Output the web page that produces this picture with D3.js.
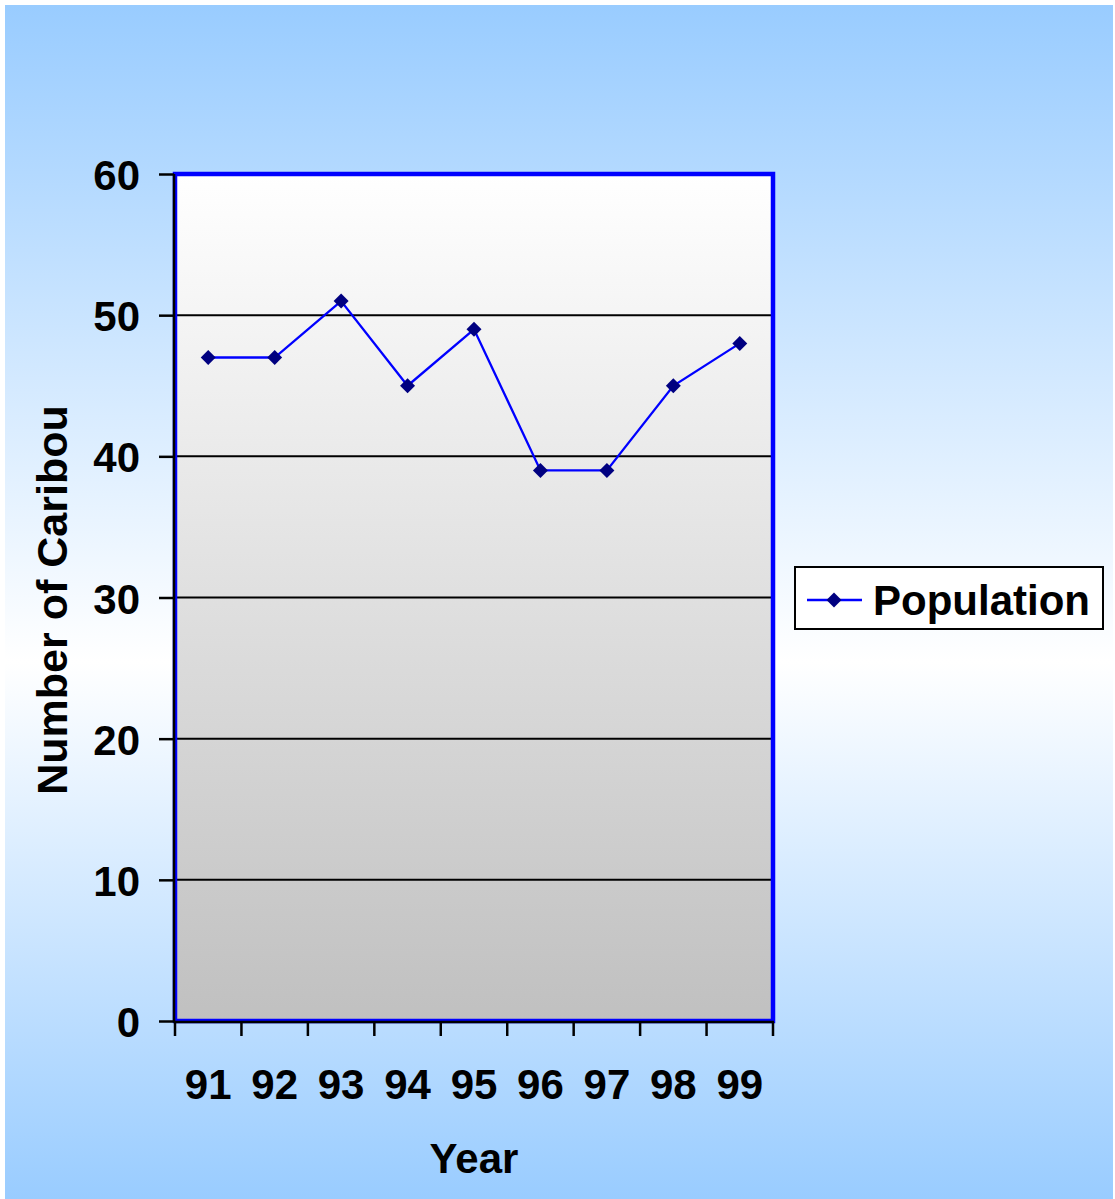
<!DOCTYPE html>
<html>
<head>
<meta charset="utf-8">
<script src="https://cdn.jsdelivr.net/npm/d3@7"></script>
<style>
  html, body { margin: 0; padding: 0; background: #ffffff; }
  svg { display: block; }
  text { font-family: Arial, "Liberation Sans", sans-serif; font-weight: bold; fill: #000; }
</style>
</head>
<body>
<svg id="chart" width="1115" height="1199"></svg>
<script>
// ---- data ----
const years = ["91", "92", "93", "94", "95", "96", "97", "98", "99"];
const population = [47, 47, 51, 45, 49, 39, 39, 45, 48];
const yTicks = [0, 10, 20, 30, 40, 50, 60];
const seriesName = "Population";
const xTitle = "Year";
const yTitle = "Number of Caribou";

const svg = d3.select("#chart");
const W = 1115, H = 1199;
const plot = { x0: 175, x1: 773, y0: 174, y1: 1021 };

const defs = svg.append("defs");
const bg = defs.append("linearGradient").attr("id", "bgGrad")
  .attr("x1", 0).attr("y1", 0).attr("x2", 0).attr("y2", 1);
bg.append("stop").attr("offset", "0%").attr("stop-color", "#99CCFF");
bg.append("stop").attr("offset", "55%").attr("stop-color", "#FFFFFF");
bg.append("stop").attr("offset", "100%").attr("stop-color", "#99CCFF");

const pg = defs.append("linearGradient").attr("id", "plotGrad")
  .attr("x1", 0).attr("y1", 0).attr("x2", 0).attr("y2", 1);
pg.append("stop").attr("offset", "0%").attr("stop-color", "#FFFFFF");
pg.append("stop").attr("offset", "100%").attr("stop-color", "#C0C0C0");

// chart background
svg.append("rect").attr("x", 5).attr("y", 5).attr("width", W - 7).attr("height", H - 5)
  .attr("fill", "url(#bgGrad)");

// scales
const x = d3.scaleBand().domain(years).range([plot.x0, plot.x1]).padding(0);
const y = d3.scaleLinear().domain([0, 60]).range([plot.y1, plot.y0]);

// plot area
svg.append("rect")
  .attr("x", plot.x0).attr("y", plot.y0)
  .attr("width", plot.x1 - plot.x0).attr("height", plot.y1 - plot.y0)
  .attr("fill", "url(#plotGrad)");

// gridlines
svg.append("g").selectAll("line").data(yTicks.filter(d => d > 0 && d < 60)).join("line")
  .attr("x1", plot.x0).attr("x2", plot.x1)
  .attr("y1", d => y(d)).attr("y2", d => y(d))
  .attr("stroke", "#000").attr("stroke-width", 2);

// plot border
svg.append("rect")
  .attr("x", plot.x0).attr("y", plot.y0)
  .attr("width", plot.x1 - plot.x0).attr("height", plot.y1 - plot.y0)
  .attr("fill", "none").attr("stroke", "#0000FF").attr("stroke-width", 4.5);

// y axis
const yAxis = svg.append("g").attr("transform", `translate(${plot.x0 - 1},0)`)
  .call(d3.axisLeft(y).tickValues(yTicks).tickSize(15).tickPadding(19).tickFormat(d3.format("d")));
yAxis.select(".domain").attr("stroke", "#000").attr("stroke-width", 2.5)
  .attr("d", `M0,${plot.y0}V${plot.y1 + 1}`);
yAxis.selectAll(".tick line").attr("stroke", "#000").attr("stroke-width", 2.5);
yAxis.selectAll(".tick text").attr("font-size", 42).attr("dy", "0.37em")
  .style("font-family", "Arial, 'Liberation Sans', sans-serif").style("font-weight", "bold");

// x axis labels
const xAxis = svg.append("g").attr("transform", `translate(0,${plot.y1 + 1})`)
  .call(d3.axisBottom(x).tickSize(0).tickPadding(47));
xAxis.select(".domain").attr("stroke", "#000").attr("stroke-width", 2.5)
  .attr("d", `M${plot.x0 - 1},0H${plot.x1 + 1}`);
xAxis.selectAll(".tick text").attr("font-size", 42)
  .style("font-family", "Arial, 'Liberation Sans', sans-serif").style("font-weight", "bold");
// x category boundary ticks
const bounds = years.map(d => x(d)).concat([x(years[years.length - 1]) + x.bandwidth()]);
xAxis.append("g").selectAll("line").data(bounds).join("line")
  .attr("x1", d => d).attr("x2", d => d).attr("y1", 0).attr("y2", 14)
  .attr("stroke", "#000").attr("stroke-width", 2.5);

// series line
const cx = d => x(d) + x.bandwidth() / 2;
const line = d3.line().x((d, i) => cx(years[i])).y(d => y(d));
svg.append("path").datum(population).attr("d", line)
  .attr("fill", "none").attr("stroke", "#0000FF").attr("stroke-width", 2.3);

const diamond = d3.symbol().type(d3.symbolSquare).size(112);
svg.append("g").selectAll("path").data(population).join("path")
  .attr("d", diamond)
  .attr("transform", (d, i) => `translate(${cx(years[i])},${y(d)}) rotate(45)`)
  .attr("fill", "#000080");

// axis titles
svg.append("text").attr("x", (plot.x0 + plot.x1) / 2).attr("y", 1173)
  .attr("text-anchor", "middle").attr("font-size", 42).text(xTitle);
svg.append("text").attr("transform", `translate(67,600) rotate(-90)`)
  .attr("text-anchor", "middle").attr("font-size", 43).text(yTitle);

// legend
const lg = svg.append("g");
lg.append("rect").attr("x", 795).attr("y", 567).attr("width", 308).attr("height", 62)
  .attr("fill", "#FFFFFF").attr("stroke", "#000").attr("stroke-width", 2);
lg.append("line").attr("x1", 807).attr("x2", 862).attr("y1", 600).attr("y2", 600)
  .attr("stroke", "#0000FF").attr("stroke-width", 2.3);
lg.append("path").attr("d", diamond).attr("transform", "translate(834,600) rotate(45)")
  .attr("fill", "#000080");
lg.append("text").attr("x", 873).attr("y", 615).attr("font-size", 42).text(seriesName);
</script>
</body>
</html>
